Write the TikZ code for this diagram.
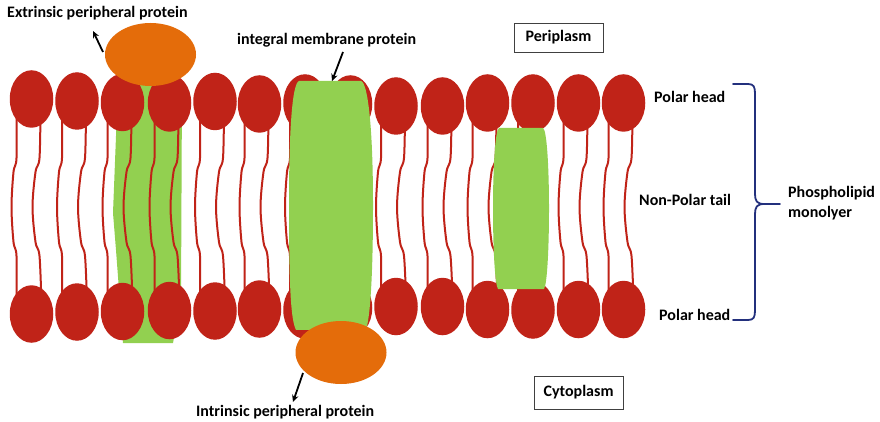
\documentclass[tikz,border=0pt]{standalone}
\usepackage{fontspec}
\setmainfont{Carlito}
\usetikzlibrary{arrows.meta,shapes.geometric}
\definecolor{headred}{RGB}{192,35,24}
\definecolor{protgreen}{RGB}{146,208,80}
\definecolor{protorange}{RGB}{228,108,10}
\definecolor{bracenavy}{RGB}{35,48,125}

\begin{document}
\begin{tikzpicture}[x=1pt,y=-1pt,
  lbl/.style={font=\bfseries\fontsize{16}{19}\selectfont, inner sep=0pt, anchor=base west},
  tailline/.style={draw=headred, line width=2pt},
  headfill/.style={fill=headred},
  protein/.style={fill=protgreen},
  peripheral/.style={fill=protorange, ellipse, inner sep=0pt, minimum width=91pt, minimum height=63pt},
  pointer/.style={-{Stealth[length=7pt,width=6.5pt]}, line width=1.8pt, black},
  region/.style={draw=black!75, line width=0.9pt, minimum width=89pt, inner sep=0pt,
                 font=\bfseries\fontsize{16}{19}\selectfont},
  bracket/.style={draw=bracenavy, line width=1.8pt, line join=round, line cap=round}
]
\fill[white] (0,0) rectangle (880,422);
\useasboundingbox (0,0) rectangle (880,422);

% peripheral-side protein that sits behind the lipids
\path[protein] (118,85) -- (113,213) -- (116,250) -- (123,343) -- (173,343) -- (181,300) -- (182,85) -- cycle;

% lipid molecules: centre x / top head y / bottom head y
\def\lipids{31.5/99/314, 77/101/312, 122.5/102.5/311.5, 169.5/103/310.5, 215/101.5/311,
  259.5/104/309, 305/103/310, 350.5/104/308, 396/106/306.5, 442.5/106/306.5,
  487.5/103/309.5, 533/103/310, 578.5/103/309.5, 623.5/103/309.5}

% non-polar tails
\foreach \c/\yt/\yb in \lipids {
  \draw[tailline] plot[smooth, tension=0.55] coordinates
    {({\c-15},{\yt+10}) ({\c-15},158) ({\c-18},172) ({\c-20},207) ({\c-18},242) ({\c-15},256) ({\c-15},{\yb-10})};
  \draw[tailline] plot[smooth, tension=0.55] coordinates
    {({\c+9},{\yt+10}) ({\c+8},158) ({\c+4},172) ({\c+1},207) ({\c+4},242) ({\c+8},256) ({\c+10},{\yb-10})};
}

% polar heads
\foreach \c/\yt/\yb in \lipids {
  \fill[headfill] (\c,\yt) ellipse [x radius=21.75, y radius=28.75];
  \fill[headfill] (\c,\yb) ellipse [x radius=21.75, y radius=28.75];
}

% integral membrane protein spanning the layer
\path[protein] (299,81) -- (361,81) .. controls (367,82) and (373,120) .. (373,205)
  .. controls (373,290) and (369,322) .. (366,329) -- (296,330)
  .. controls (291,320) and (289,290) .. (289,205)
  .. controls (289,120) and (293,83) .. (299,81) -- cycle;

% protein embedded in the tail region
\path[protein] (499,128) -- (543,128) .. controls (547,130) and (549,170) .. (549,208)
  .. controls (549,250) and (547,285) .. (544,289) -- (498,289)
  .. controls (495,285) and (493,250) .. (493,208)
  .. controls (493,170) and (495,130) .. (499,128) -- cycle;

% peripheral proteins
\node[peripheral] (extprot) at (150.5,54.5) {};
\node[peripheral] (intprot) at (341,352.5) {};

% labels
\node[lbl] (extlbl) at (7,18) {Extrinsic peripheral protein};
\node[lbl] (intmlbl) at (237,44.5) {integral membrane protein};
\node[lbl] (inlbl) at (196,416) {Intrinsic peripheral protein};
\node[region, minimum height=29pt] (peri) at (558.5,37.5) {Periplasm};
\node[region, minimum height=33pt] (cyto) at (578.5,392.5) {Cytoplasm};
\node[lbl] (headtop) at (654,102.5) {Polar head};
\node[lbl] (tail) at (639,205) {Non-Polar tail};
\node[lbl] (headbot) at (659,320.5) {Polar head};
\node[lbl] (mono1) at (788,197.5) {Phospholipid};
\node[lbl] (mono2) at (788,217) {monolyer};

% pointer arrows
\coordinate (extfrom) at (103,52);
\coordinate (extto) at (93,31);
\coordinate (intmfrom) at (343,52);
\coordinate (intmto) at (332,81);
\coordinate (infrom) at (303,373);
\coordinate (into) at (293,402);
\draw[pointer] (extfrom) -- (extto);
\draw[pointer] (intmfrom) -- (intmto);
\draw[pointer] (infrom) -- (into);

% brace grouping the monolayer
\coordinate (bracetop) at (733,84);
\coordinate (bracetip) at (780,204);
\coordinate (bracebot) at (733,320);
\draw[bracket] (bracetop) -- (748,84) .. controls (754,84) and (755,87) .. (755,94) -- (755,194)
  .. controls (755,201) and (757,204) .. (764,204) -- (bracetip)
  (764,204) .. controls (757,204) and (755,207) .. (755,214) -- (755,310)
  .. controls (755,317) and (754,320) .. (748,320) -- (bracebot);
\end{tikzpicture}
\end{document}
